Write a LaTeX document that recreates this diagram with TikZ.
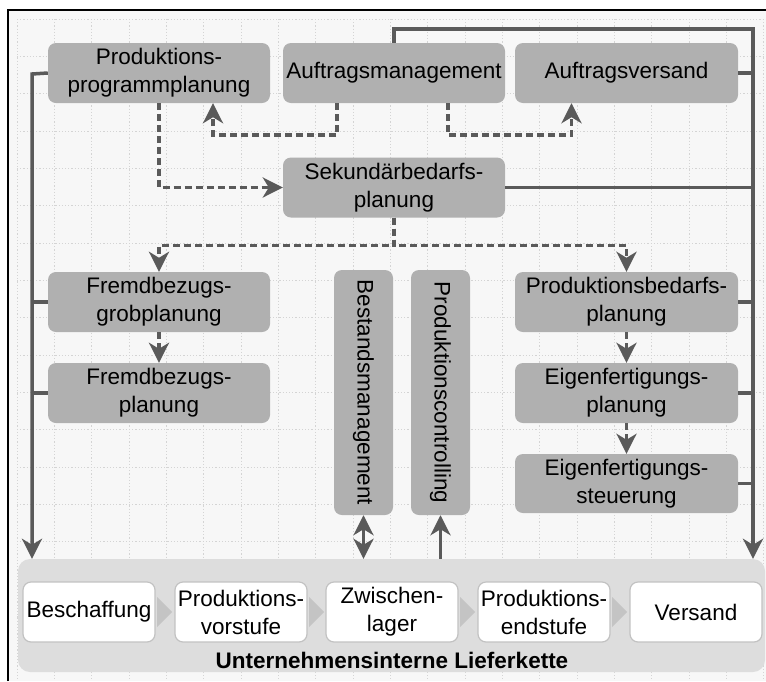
\documentclass[tikz,border=0pt]{standalone}
\usepackage{fontspec}
\setmainfont{Liberation Sans}
\usetikzlibrary{arrows.meta}
\definecolor{nodegray}{HTML}{B0B0B0}
\definecolor{linegray}{HTML}{5A5A5A}
\definecolor{chaingray}{HTML}{DDDDDD}
\definecolor{boxborder}{HTML}{C2C2C2}
\definecolor{chevgray}{HTML}{C4C4C4}
\definecolor{bggray}{HTML}{F7F7F7}
\definecolor{gridgray}{HTML}{D4D4D4}
\begin{document}
\begin{tikzpicture}[x=1pt,y=-1pt,
  font=\fontsize{22.5}{28}\selectfont,
  proc/.style={rounded corners=8pt, fill=nodegray, inner sep=0pt, align=center, minimum width=222pt, minimum height=60pt},
  vproc/.style={proc, rotate=-90, minimum width=245pt, minimum height=59pt},
  stepbox/.style={rounded corners=8pt, fill=white, draw=boxborder, line width=1.2pt, inner sep=0pt, align=center, minimum width=132pt, minimum height=60pt},
  bus/.style={draw=linegray, line width=3.5pt},
  arrowend/.style={-{Stealth[length=20pt 0 0,width=20pt 0 0,inset=6pt 0 0]}},
  botharrow/.style={{Stealth[length=20pt 0 0,width=20pt 0 0,inset=6pt 0 0]}-{Stealth[length=20pt 0 0,width=20pt 0 0,inset=6pt 0 0]}},
  dline/.style={draw=linegray, line width=3.5pt, dash pattern=on 7pt off 4pt},
  gridline/.style={draw=gridgray, line width=0.8pt, dash pattern=on 1.2pt off 2pt},
]
\useasboundingbox (0,0) rectangle (766,681);
\fill[white] (0,0) rectangle (766,681);
\fill[bggray] (8,10) rectangle (766,681);
\foreach \i in {0,...,20} \draw[gridline] ({17+37.33*\i},19) -- ({17+37.33*\i},681);
\foreach \j in {0,...,17} \draw[gridline] (17,{19+37.33*\j}) -- (766,{19+37.33*\j});
\draw[black, line width=2pt] (8,681) -- (8,10) -- (766,10);

% planning nodes
\node[proc] (ppp) at (159,73) {Produktions-\\programmplanung};
\node[proc] (am) at (394,73) {Auftragsmanagement};
\node[proc, minimum width=223pt] (av) at (626.5,73) {Auftragsversand};
\node[proc] (sek) at (394,187.5) {Sekundärbedarfs-\\planung};
\node[proc] (fbg) at (159,302) {Fremdbezugs-\\grobplanung};
\node[proc] (fbp) at (159,393) {Fremdbezugs-\\planung};
\node[vproc] (bm) at (363.5,392.5) {Bestandsmanagement};
\node[vproc] (pc) at (440.5,392.5) {Produktionscontrolling};
\node[proc, minimum width=223pt] (pb) at (626.5,302) {Produktionsbedarfs-\\planung};
\node[proc, minimum width=223pt] (efp) at (626.5,393) {Eigenfertigungs-\\planung};
\node[proc, minimum width=223pt, minimum height=59pt] (efs) at (626.5,483.5) {Eigenfertigungs-\\steuerung};

% supply chain
\node[rounded corners=12pt, fill=chaingray, minimum width=747pt, minimum height=113pt, inner sep=0pt] (chain) at (391.5,615.5) {};
\node[stepbox] (b1) at (89,612) {Beschaffung};
\node[stepbox] (b2) at (241,612) {Produktions-\\vorstufe};
\node[stepbox] (b3) at (392,612) {Zwischen-\\lager};
\node[stepbox] (b4) at (544,612) {Produktions-\\endstufe};
\node[stepbox] (b5) at (696,612) {Versand};
\node[font=\fontsize{22.5}{28}\selectfont\bfseries] (chainlbl) at (392,660) {Unternehmensinterne Lieferkette};
\foreach \a/\b in {b1/b2,b2/b3,b3/b4,b4/b5}
  \fill[chevgray] ([xshift=1.5pt]\a.east) ++(0,-15) -- ++(15,15) -- ++(-15,15) -- cycle;

% solid buses
\coordinate (lb) at (32,74);
\coordinate (rb) at (753,29);
\draw[bus, arrowend] (ppp.west) -- (lb) -- (lb |- chain.north);
\draw[bus] (fbg.west) -- (fbg.west -| lb);
\draw[bus] (fbp.west) -- (fbp.west -| lb);
\draw[bus, arrowend] (am.north) |- (rb) -- (rb |- chain.north);
\draw[bus] (av.east) -- (av.east -| rb);
\draw[bus] (sek.east) -- (sek.east -| rb);
\draw[bus] (pb.east) -- (pb.east -| rb);
\draw[bus] (efp.east) -- (efp.east -| rb);
\draw[bus] (efs.east) -- (efs.east -| rb);
\draw[bus, botharrow] (bm.east) -- (bm.east |- chain.north);
\draw[bus, arrowend] (pc.east |- chain.north) -- (pc.east);

% dashed flows
\draw[dline, arrowend] ([xshift=-57pt]am.south) -- ++(0,32) -| ([xshift=54pt]ppp.south);
\draw[dline, arrowend] ([xshift=54pt]am.south) -- ++(0,32) -| ([xshift=-55pt]av.south);
\draw[dline, arrowend] (ppp.south) |- (sek.west);
\draw[dline, arrowend] (sek.south) -- ++(0,28) -| (fbg.north);
\draw[dline, arrowend] (sek.south) -- ++(0,28) -| (pb.north);
\draw[dline, arrowend] (fbg.south) -- (fbp.north);
\draw[dline, arrowend] (pb.south) -- (efp.north);
\draw[dline, arrowend] (efp.south) -- (efs.north);
\end{tikzpicture}
\end{document}
